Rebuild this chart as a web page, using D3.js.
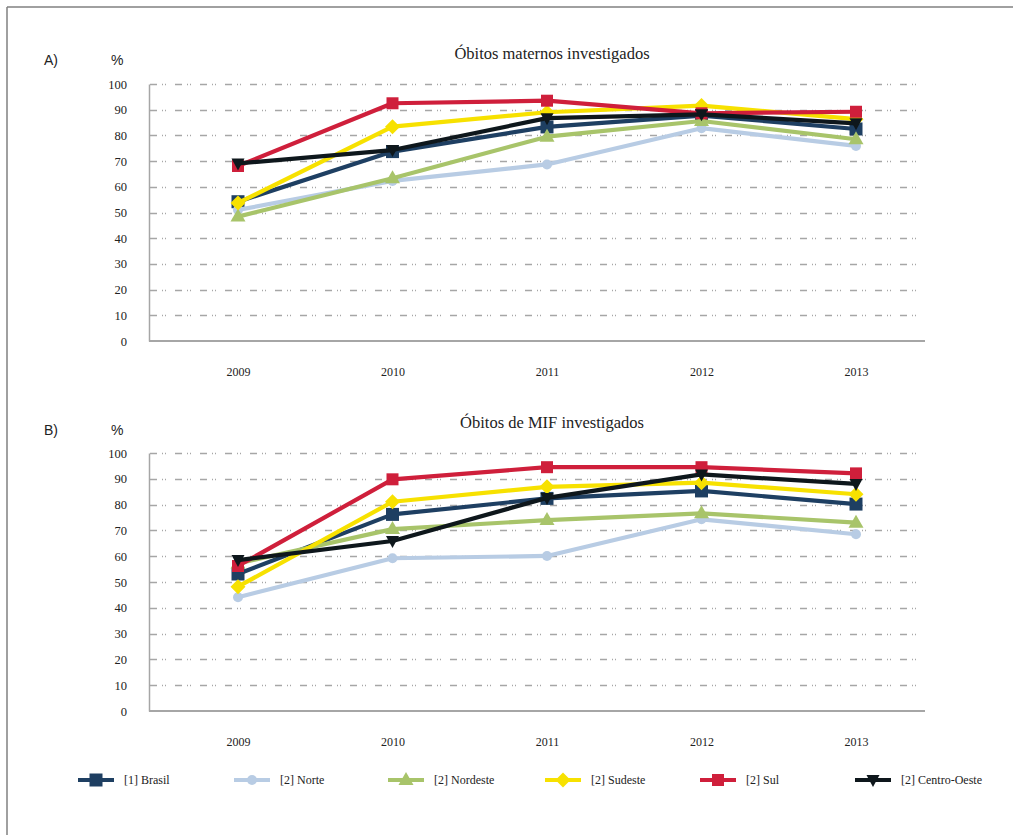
<!DOCTYPE html>
<html>
<head>
<meta charset="utf-8">
<script src="https://cdn.jsdelivr.net/npm/d3@7"></script>
<style>
  html, body { margin: 0; padding: 0; background: #fff; }
  svg { display: block; }
</style>
</head>
<body>
<svg id="chart" width="1013" height="835"></svg>
<script>
// ---- data ----
const years = ["2009", "2010", "2011", "2012", "2013"];
const yTicks = [0, 10, 20, 30, 40, 50, 60, 70, 80, 90, 100];
const seriesNames = ["[1] Brasil", "[2] Norte", "[2] Nordeste", "[2] Sudeste", "[2] Sul", "[2] Centro-Oeste"];

// Panel A: Óbitos maternos investigados
const brasilA = [54.2, 73.7, 83.3, 87.7, 82.5];
const norteA = [51.0, 62.3, 68.7, 82.8, 75.9];
const nordesteA = [48.4, 63.3, 79.5, 85.6, 78.5];
const sudesteA = [53.7, 83.4, 89.0, 91.6, 86.3];
const sulA = [68.1, 92.5, 93.5, 88.6, 89.2];
const centroOesteA = [69.1, 74.3, 86.7, 88.2, 84.7];

// Panel B: Óbitos de MIF investigados
const brasilB = [53.1, 76.2, 82.4, 85.3, 80.2];
const norteB = [44.1, 59.2, 60.1, 74.3, 68.5];
const nordesteB = [57.2, 70.5, 74.0, 76.6, 73.0];
const sudesteB = [48.2, 81.1, 86.9, 88.5, 84.0];
const sulB = [56.2, 89.8, 94.5, 94.5, 92.1];
const centroOesteB = [58.5, 65.9, 82.6, 91.7, 88.0];

const titleA = "Óbitos maternos investigados";
const titleB = "Óbitos de MIF investigados";

// ---- styles ----
const colors = ["#1e3f62", "#b8cce4", "#a8c46a", "#f7e100", "#cf1f3b", "#0e171c"];
const symbols = ["square", "circle", "triangle", "diamond", "square2", "triangleDown"];

// pick an installed serif font
function fontExists(name) {
  const c = document.createElement("canvas").getContext("2d");
  const s = "mmmmmmmmmmlliWWOb0123456789";
  c.font = "40px monospace";
  const w0 = c.measureText(s).width;
  c.font = `40px "${name}", monospace`;
  return c.measureText(s).width !== w0;
}
const serifCands = ["Liberation Serif", "DejaVu Serif", "Noto Serif", "Times New Roman", "FreeSerif"];
const serifName = serifCands.find(fontExists);
const serif = serifName ? `"${serifName}", serif` : "serif";
const sans = "'Liberation Sans', Arial, sans-serif";

const svg = d3.select("#chart");

// frame lines
svg.append("line").attr("x1", 7).attr("x2", 1013).attr("y1", 7).attr("y2", 7)
  .attr("stroke", "#808080").attr("stroke-width", 1.5);
svg.append("line").attr("x1", 7).attr("x2", 7).attr("y1", 7).attr("y2", 835)
  .attr("stroke", "#808080").attr("stroke-width", 1.5);

function symbolPath(type) {
  switch (type) {
    case "square": return "M-6.5,-6.5H6.5V6.5H-6.5Z";
    case "square2": return "M-6,-6H6V6H-6Z";
    case "circle": return "M5,0A5,5 0 1,1 -5,0A5,5 0 1,1 5,0Z";
    case "triangle": return "M0,-8L7.5,5H-7.5Z";
    case "diamond": return "M0,-7.5L7.5,0L0,7.5L-7.5,0Z";
    case "triangleDown": return "M0,7L-6.5,-5H6.5Z";
  }
}

function drawPanel(cfg) {
  const g = svg.append("g");
  const x = d3.scalePoint().domain(years).range([238, 856]);
  const y = d3.scaleLinear().domain([0, 100]).range([cfg.y0, cfg.y100]);
  const xLeft = 149, xRight = 925;

  g.append("text").attr("x", 44).attr("y", cfg.labelY).text(cfg.letter)
    .style("font-family", sans).attr("font-size", 14).attr("fill", "#222");
  g.append("text").attr("x", 111).attr("y", cfg.labelY).text("%")
    .style("font-family", sans).attr("font-size", 14).attr("fill", "#222");
  g.append("text").attr("x", 552).attr("y", cfg.titleY).text(cfg.title)
    .attr("text-anchor", "middle").style("font-family", serif)
    .attr("font-size", 16.5).attr("fill", "#222");

  // gridlines
  g.append("g").selectAll("line").data(yTicks.filter(t => t > 0)).join("line")
    .attr("x1", xLeft + 1).attr("x2", xRight)
    .attr("y1", d => Math.round(y(d)) + 0.5).attr("y2", d => Math.round(y(d)) + 0.5)
    .attr("stroke", "#a6a6a6").attr("stroke-width", 1.4)
    .attr("stroke-dasharray", "7,5,1,2,1,9");

  // y axis
  const yAxis = d3.axisLeft(y).tickValues(yTicks).tickSize(0).tickPadding(22);
  const ya = g.append("g").attr("transform", `translate(${xLeft},0)`).call(yAxis);
  ya.select(".domain").attr("stroke", "#a6a6a6").attr("stroke-width", 1.5);
  ya.selectAll("text").style("font-family", serif).attr("font-size", 12.5).attr("fill", "#222");

  // x axis baseline
  g.append("line").attr("x1", xLeft).attr("x2", xRight)
    .attr("y1", y(0)).attr("y2", y(0))
    .attr("stroke", "#a6a6a6").attr("stroke-width", 2);
  const xAxis = d3.axisBottom(x).tickSize(0).tickPadding(26);
  const xa = g.append("g").attr("transform", `translate(0,${y(0)})`).call(xAxis);
  xa.select(".domain").remove();
  xa.selectAll("text").style("font-family", serif).attr("font-size", 12).attr("fill", "#222");

  // series
  const line = d3.line().x((d, i) => x(years[i])).y(d => y(d));
  cfg.data.forEach((vals, si) => {
    const sg = g.append("g");
    sg.append("path").attr("d", line(vals)).attr("fill", "none")
      .attr("stroke", colors[si]).attr("stroke-width", 4.2)
      .attr("stroke-linejoin", "round");
    sg.selectAll("path.m").data(vals).join("path").attr("class", "m")
      .attr("d", symbolPath(symbols[si]))
      .attr("transform", (d, i) => `translate(${x(years[i])},${y(d)})`)
      .attr("fill", colors[si]);
  });
}

drawPanel({ letter: "A)", title: titleA, labelY: 65, titleY: 59, y0: 341, y100: 84,
  data: [brasilA, norteA, nordesteA, sudesteA, sulA, centroOesteA] });
drawPanel({ letter: "B)", title: titleB, labelY: 435, titleY: 428, y0: 711, y100: 453,
  data: [brasilB, norteB, nordesteB, sudesteB, sulB, centroOesteB] });

// legend
const legX = [78, 234, 388, 545, 700, 855];
const legY = 780;
const lg = svg.append("g");
seriesNames.forEach((name, i) => {
  const it = lg.append("g").attr("transform", `translate(${legX[i]},${legY})`);
  it.append("line").attr("x1", 0).attr("x2", 36).attr("y1", 0).attr("y2", 0)
    .attr("stroke", colors[i]).attr("stroke-width", 4);
  it.append("path").attr("d", symbolPath(symbols[i]))
    .attr("transform", "translate(18,0)")
    .attr("fill", colors[i]);
  it.append("text").attr("x", 46).attr("y", 4).text(name)
    .style("font-family", serif).attr("font-size", 12).attr("fill", "#222");
});
</script>
</body>
</html>
